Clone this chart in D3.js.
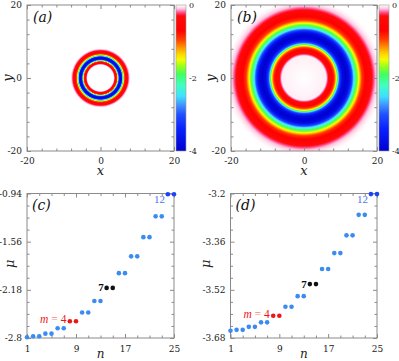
<!DOCTYPE html>
<html>
<head>
<meta charset="utf-8">
<script src="https://cdnjs.cloudflare.com/ajax/libs/d3/7.8.5/d3.min.js"></script>
<style>
  body { margin: 0; background: #fff; }
  svg { display: block; font-family: "DejaVu Serif", serif; }
  .ax .domain { display: none; }
  .ax line { stroke: #8a8a8a; }
  .ax text { fill: #222; font-size: 9px; font-family: "DejaVu Serif", serif; }
</style>
</head>
<body>
<svg id="fig" width="399" height="361"></svg>
<script>
// ---- data ----
var heatTicks = [-20, 0, 20];
var cbTicks = [0, -2, -4];

// colour map (value -> colour), 0 at top of bar, -4 at bottom
var cmapValues = [0, -0.1, -0.22, -0.3, -0.7, -0.95, -1.15, -1.35, -1.5, -1.7, -1.9, -2.2, -2.5, -2.75, -3.0, -3.4, -4];
var cmapColors = ["#ffffff", "#ffc8e0", "#ff4080", "#ff0a0a", "#ff0000", "#ff4000", "#ff9000", "#ffd800",
                  "#f0ff00", "#90ff20", "#40ff60", "#40ffc0", "#40e0ff", "#4090ff", "#2050ff", "#0820ff", "#0000d0"];

// radial profiles of the two rings (radius -> value)
var ringARadius = [0, 3.55, 3.8, 4.2, 4.55, 4.7, 4.85, 5.15, 5.45, 5.75, 6.0, 6.17, 6.35, 6.55, 7.0, 7.45, 7.8, 8.1, 40];
var ringAValue  = [0, 0, -0.2, -0.6, -1.0, -1.7, -2.5, -3.6, -4, -3.6, -2.5, -1.9, -1.4, -0.95, -0.6, -0.3, -0.12, 0, 0];
var ringBRadius = [0, 6.0, 6.3, 6.7, 8.3, 8.6, 8.9, 9.15, 9.4, 9.7, 10.5, 11.4, 12.3, 13.2, 13.6, 14.3, 15.0, 15.4, 15.9, 18.6, 19.6, 20.5, 21.5, 40];
var ringBValue  = [0, -0.03, -0.15, -0.3, -0.9, -1.2, -1.5, -1.9, -2.5, -3.0, -3.8, -4, -3.8, -3.0, -2.5, -1.9, -1.5, -1.2, -0.9, -0.3, -0.12, -0.04, 0, 0];

// eigenvalue spectra
var nIndex = [1, 2, 3, 4, 5, 6, 7, 8, 9, 10, 11, 12, 13, 14, 15, 16, 17, 18, 19, 20, 21, 22, 23, 24, 25];
var muC = [-2.791, -2.778, -2.778, -2.744, -2.744, -2.674, -2.674, -2.584, -2.584, -2.471, -2.471, -2.324, -2.324,
           -2.155, -2.155, -1.965, -1.965, -1.749, -1.749, -1.502, -1.502, -1.234, -1.234, -0.949, -0.949];
var muD = [-3.656, -3.653, -3.653, -3.643, -3.643, -3.628, -3.628, -3.606, -3.606, -3.576, -3.576, -3.541, -3.541,
           -3.501, -3.501, -3.451, -3.451, -3.398, -3.398, -3.339, -3.339, -3.271, -3.271, -3.202, -3.202];
var pointKind = ["s", "s", "s", "s", "s", "s", "s", "m4", "m4", "s", "s", "s", "s", "m7", "m7",
                 "s", "s", "s", "s", "s", "s", "s", "s", "m12", "m12"];
var cTicks = [-2.8, -2.18, -1.56, -0.94];
var dTicks = [-3.68, -3.52, -3.36, -3.2];
var nTicks = [1, 9, 17, 25];

var kindColor = {s: "#3b8cf2", m4: "#f01414", m7: "#111111", m12: "#1c44f5"};

var svg = d3.select("#fig");
var cmap = d3.scaleLinear().domain(cmapValues).range(cmapColors).clamp(true);

function minorTicks(major, sub) {
  var out = [];
  for (var i = 0; i < major.length - 1; i++)
    for (var k = 1; k < sub; k++) out.push(major[i] + (major[i + 1] - major[i]) * k / sub);
  return out;
}

function fmt(d) { return String(d); }

// frame with inward ticks on all four sides
function frame(g, x, y, xt, yt, xsub, ysub, padB) {
  var w = x.range()[1], h = y.range()[0];
  var xm = minorTicks(xt, xsub), ym = minorTicks(yt, ysub);

  g.append("g").attr("class", "ax").attr("transform", "translate(0," + h + ")")
    .call(d3.axisBottom(x).tickValues(xt).tickSize(-4).tickPadding(padB).tickFormat(fmt));
  g.append("g").attr("class", "ax").attr("transform", "translate(0," + h + ")")
    .call(d3.axisBottom(x).tickValues(xm).tickSize(-2.5).tickFormat(""));
  g.append("g").attr("class", "ax")
    .call(d3.axisTop(x).tickValues(xt).tickSize(-4).tickFormat(""));
  g.append("g").attr("class", "ax")
    .call(d3.axisTop(x).tickValues(xm).tickSize(-2.5).tickFormat(""));

  g.append("g").attr("class", "ax")
    .call(d3.axisLeft(y).tickValues(yt).tickSize(-4).tickPadding(5).tickFormat(fmt));
  g.append("g").attr("class", "ax")
    .call(d3.axisLeft(y).tickValues(ym).tickSize(-2.5).tickFormat(""));
  g.append("g").attr("class", "ax").attr("transform", "translate(" + w + ",0)")
    .call(d3.axisRight(y).tickValues(yt).tickSize(-4).tickFormat(""));
  g.append("g").attr("class", "ax").attr("transform", "translate(" + w + ",0)")
    .call(d3.axisRight(y).tickValues(ym).tickSize(-2.5).tickFormat(""));

  g.append("rect")
    .attr("width", w).attr("height", h)
    .attr("fill", "none").attr("stroke", "#8a8a8a").attr("stroke-width", 1);
}

function heatPanel(px, py, w, h, radius, value, label, ylabX, cbX) {
  var g = svg.append("g").attr("transform", "translate(" + px + "," + py + ")");
  var x = d3.scaleLinear().domain([-20, 20]).range([0, w]);
  var y = d3.scaleLinear().domain([-20, 20]).range([h, 0]);
  var prof = d3.scaleLinear().domain(radius).range(value).clamp(true);

  var cw = Math.round(w), ch = Math.round(h);
  var cv = document.createElement("canvas");
  cv.width = cw; cv.height = ch;
  var ctx = cv.getContext("2d"), img = ctx.createImageData(cw, ch);
  for (var j = 0; j < ch; j++) {
    for (var i = 0; i < cw; i++) {
      var r = Math.sqrt(Math.pow(x.invert(i + 0.5), 2) + Math.pow(y.invert(j + 0.5), 2));
      var c = d3.rgb(cmap(prof(r)));
      var k = 4 * (j * cw + i);
      img.data[k] = c.r; img.data[k + 1] = c.g; img.data[k + 2] = c.b; img.data[k + 3] = 255;
    }
  }
  ctx.putImageData(img, 0, 0);
  g.append("image")
    .attr("width", w).attr("height", h)
    .attr("preserveAspectRatio", "none")
    .attr("href", cv.toDataURL());

  frame(g, x, y, heatTicks, heatTicks, 5, 5, 7);

  g.append("text")
    .attr("x", 6).attr("y", 17)
    .attr("font-size", 14).attr("font-style", "italic").attr("fill", "#111")
    .text(label);

  g.append("text")
    .attr("x", w / 2).attr("y", h + 24)
    .attr("text-anchor", "middle")
    .attr("font-size", 13).attr("font-style", "italic").attr("fill", "#222")
    .text("x");
  g.append("text")
    .attr("transform", "translate(" + ylabX + "," + (h / 2) + ") rotate(-90)")
    .attr("text-anchor", "middle").attr("dy", "0.3em")
    .attr("font-size", 13).attr("font-style", "italic").attr("fill", "#222")
    .text("y");

  // colour bar
  var cb = d3.scaleLinear().domain([0, -4]).range([0, h]);
  var gid = "grad" + label.replace(/\W/g, "");
  var grad = svg.append("defs").append("linearGradient")
    .attr("id", gid).attr("x1", 0).attr("y1", 0).attr("x2", 0).attr("y2", 1);
  grad.selectAll("stop")
    .data(cmapValues)
    .enter()
    .append("stop")
      .attr("offset", function(d) { return cb(d) / h; })
      .attr("stop-color", function(d) { return cmap(d); });

  var gc = g.append("g").attr("transform", "translate(" + cbX + ",0)");
  gc.append("rect")
    .attr("width", 10).attr("height", h)
    .attr("fill", "url(#" + gid + ")")
    .attr("stroke", "#999").attr("stroke-width", 0.6);
  gc.append("g").attr("class", "ax cb").attr("transform", "translate(10,0)")
    .call(d3.axisRight(cb).tickValues(cbTicks).tickSize(0).tickPadding(3).tickFormat(fmt))
    .selectAll("text").style("font-size", "8px");
}

function specPanel(px, py, w, h, mu, yt, label, ylabX) {
  var g = svg.append("g").attr("transform", "translate(" + px + "," + py + ")");
  var x = d3.scaleLinear().domain([1, 25]).range([0, w]);
  var y = d3.scaleLinear().domain([yt[0], yt[yt.length - 1]]).range([h, 0]);

  frame(g, x, y, nTicks, yt, 4, 4, 8);

  g.selectAll(".pt")
    .data(nIndex)
    .enter()
    .append("circle")
      .attr("class", "pt")
      .attr("cx", function(d) { return x(d); })
      .attr("cy", function(d, i) { return y(mu[i]); })
      .attr("r", 2.3)
      .attr("fill", function(d, i) { return kindColor[pointKind[i]]; });

  var i4 = pointKind.indexOf("m4"), i7 = pointKind.indexOf("m7"), i12 = pointKind.indexOf("m12");

  var t4 = g.append("text")
    .attr("x", x(nIndex[i4]) - 3.5).attr("y", y(mu[i4]) + 2)
    .attr("text-anchor", "end")
    .attr("font-family", "Liberation Serif, serif").attr("font-size", 11.5)
    .attr("fill", "#f01414");
  t4.append("tspan").attr("font-style", "italic").text("m");
  t4.append("tspan").attr("fill", "#f58a8a").text(" = ");
  t4.append("tspan").text("4");

  g.append("text")
    .attr("x", x(nIndex[i7]) - 3).attr("y", y(mu[i7]) + 3.5)
    .attr("text-anchor", "end")
    .attr("font-family", "Liberation Serif, serif").attr("font-size", 11).attr("font-weight", "bold")
    .attr("fill", "#111")
    .text("7");

  g.append("text")
    .attr("x", x(nIndex[i12]) - 3).attr("y", y(mu[i12]) + 8.5)
    .attr("text-anchor", "end")
    .attr("font-family", "Liberation Serif, serif").attr("font-size", 11)
    .attr("fill", "#5072f2")
    .text("12");

  g.append("text")
    .attr("x", 5).attr("y", 16.5)
    .attr("font-size", 14).attr("font-style", "italic").attr("fill", "#111")
    .text(label);

  g.append("text")
    .attr("x", w / 2).attr("y", h + 20)
    .attr("text-anchor", "middle")
    .attr("font-size", 12).attr("font-style", "italic").attr("fill", "#222")
    .text("n");
  g.append("text")
    .attr("transform", "translate(" + ylabX + "," + (h / 2 - 2) + ") rotate(-90)")
    .attr("text-anchor", "middle").attr("dy", "0.3em")
    .attr("font-size", 13).attr("font-style", "italic").attr("fill", "#222")
    .text("μ");
}

heatPanel(27, 5, 147, 146, ringARadius, ringAValue, "(a)", -19, 149);
heatPanel(231, 5, 146, 146, ringBRadius, ringBValue, "(b)", -20, 148);
specPanel(27, 193.5, 147, 144.5, muC, cTicks, "(c)", -17);
specPanel(230.5, 193.5, 146.5, 144.5, muD, dTicks, "(d)", -24);
</script>
</body>
</html>
